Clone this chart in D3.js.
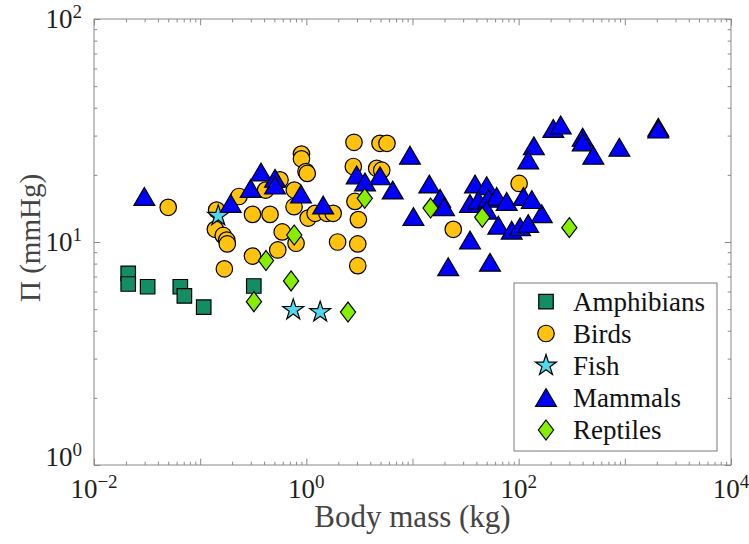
<!DOCTYPE html>
<html>
<head>
<meta charset="utf-8">
<script src="https://cdn.jsdelivr.net/npm/d3@7/dist/d3.min.js"></script>
<style>
  html, body { margin: 0; padding: 0; background: #fff; }
  svg { display: block; }
</style>
</head>
<body>
<svg id="chart" width="749" height="544" font-family="Liberation Serif"></svg>
<script>
// ---------------- data ----------------
const categories = ["Amphibians", "Birds", "Fish", "Mammals", "Reptiles"];

const amphibiansMass = [0.021, 0.021, 0.032, 0.065, 0.071, 0.108, 0.32];
const amphibiansPi   = [7.24, 6.48, 6.30, 6.30, 5.73, 5.10, 6.35];

const birdsMass = [0.050, 0.143, 0.139, 0.165, 0.178, 0.180, 0.169, 0.232, 0.311, 0.455,
                   0.766, 1.04, 0.90, 0.90, 0.993, 1.02, 0.593, 0.538, 0.311, 0.80,
                   2.81, 4.94, 5.75, 2.77, 4.60, 5.13, 2.87, 3.09, 3.05, 3.05,
                   1.97, 0.414, 0.565, 0.771, 1.21, 1.56, 1.79, 101, 24.2];
const birdsPi   = [14.3, 13.9, 11.4, 10.7, 10.2, 9.8, 7.58, 16.0, 13.3, 13.3,
                   14.4, 12.8, 24.8, 23.6, 20.7, 20.3, 11.1, 9.21, 8.65, 9.87,
                   28.0, 27.7, 27.7, 21.8, 21.4, 21.0, 15.2, 12.6, 9.80, 7.83,
                   10.0, 17.1, 19.0, 17.1, 13.45, 13.45, 13.45, 18.3, 11.4];

const fishMass = [0.148, 0.753, 1.35];
const fishPi   = [13.1, 4.96, 4.85];

const mammalsMass = [0.0298, 0.194, 0.299, 0.374, 0.507, 0.507, 0.89, 1.44, 2.98, 3.57,
                     4.94, 6.51, 9.47, 14.4, 18.2, 19.8, 10.2, 38.8, 50.0, 34.8,
                     41.7, 51.7, 62.1, 77.1, 50.0, 64.3, 86.0, 103, 123, 165,
                     111, 133, 34.8, 21.7, 53.7, 212, 249, 139, 123, 401,
                     401, 505, 887, 2065, 2065];
const mammalsPi   = [16.0, 14.9, 17.4, 20.6, 19.3, 18.0, 16.4, 14.65, 20.0, 18.6,
                     19.8, 17.1, 24.5, 18.2, 15.7, 14.4, 13.0, 18.2, 17.9, 14.9,
                     15.4, 15.7, 16.0, 15.2, 13.9, 11.9, 11.3, 11.7, 12.1, 13.4,
                     16.0, 15.5, 10.2, 7.75, 8.11, 32.3, 33.5, 27.0, 23.3, 29.5,
                     28.1, 24.5, 26.6, 32.7, 32.1];

const reptilesMass = [0.321, 0.417, 0.718, 0.769, 2.47, 3.55, 14.8, 45.4, 300];
const reptilesPi   = [5.40, 8.26, 6.69, 10.75, 4.85, 15.7, 14.2, 12.9, 11.6];

const xTickLabels = ["10^−2", "10^0", "10^2", "10^4"];
const yTickLabels = ["10^0", "10^1", "10^2"];

// ---------------- styles ----------------
const FONT = "Liberation Serif";
const fills = {
  Amphibians: "#138d64",
  Birds: "#ffc20e",
  Fish: "#4fd8ee",
  Mammals: "#0000ff",
  Reptiles: "#88ee00"
};

// custom marker shapes (size = linear dimension)
const squareType  = { draw(c, s) { const h = s / 2; c.moveTo(-h, -h); c.lineTo(h, -h); c.lineTo(h, h); c.lineTo(-h, h); c.closePath(); } };
const circleType  = { draw(c, s) { const r = s / 2; c.moveTo(r, 0); c.arc(0, 0, r, 0, 2 * Math.PI); } };
const triType     = { draw(c, s) { const w = s * 0.55, h = s * 0.47; c.moveTo(0, -h); c.lineTo(w, h); c.lineTo(-w, h); c.closePath(); } };
const diamondType = { draw(c, s) { const w = s * 0.38, h = s * 0.5; c.moveTo(0, -h); c.lineTo(w, 0); c.lineTo(0, h); c.lineTo(-w, 0); c.closePath(); } };
const starType    = { draw(c, s) {
  const R = s / 2, r = R * 0.382;
  for (let i = 0; i < 10; i++) {
    const rad = i % 2 ? r : R;
    const a = -Math.PI / 2 + i * Math.PI / 5;
    const px = rad * Math.cos(a), py = rad * Math.sin(a);
    if (i === 0) c.moveTo(px, py); else c.lineTo(px, py);
  }
  c.closePath();
} };

const markers = {
  Amphibians: { type: squareType, size: 14.5 },
  Birds:      { type: circleType, size: 16.5 },
  Fish:       { type: starType,   size: 22 },
  Mammals:    { type: triType,    size: 19 },
  Reptiles:   { type: diamondType, size: 20 }
};

const seriesData = {
  Amphibians: amphibiansMass.map((m, i) => ({ m, p: amphibiansPi[i] })),
  Birds:      birdsMass.map((m, i) => ({ m, p: birdsPi[i] })),
  Fish:       fishMass.map((m, i) => ({ m, p: fishPi[i] })),
  Mammals:    mammalsMass.map((m, i) => ({ m, p: mammalsPi[i] })),
  Reptiles:   reptilesMass.map((m, i) => ({ m, p: reptilesPi[i] }))
};

// ---------------- layout ----------------
const svg = d3.select("#chart");
const L = 94, R = 731, T = 19, B = 465;
const x = d3.scaleLog().domain([1e-2, 1e4]).range([L, R]);
const y = d3.scaleLog().domain([1, 100]).range([B, T]);

const axisColor = "#8a8a8a";

function decades(d0, d1) { const out = []; for (let e = d0; e <= d1; e++) out.push(Math.pow(10, e)); return out; }
function minors(d0, d1) { const out = []; for (let e = d0; e < d1; e++) for (let k = 2; k <= 9; k++) out.push(k * Math.pow(10, e)); return out; }

const xMaj = decades(-2, 4), xMin = minors(-2, 4);
const yMaj = decades(0, 2),  yMin = minors(0, 2);

function drawAxis(gen, scale, vals, size, tx, ty) {
  const g = svg.append("g").attr("transform", `translate(${tx},${ty})`)
    .call(gen(scale).tickValues(vals).tickSizeInner(-size).tickSizeOuter(0).tickFormat(""));
  g.select(".domain").remove();
  g.selectAll("line").attr("stroke", axisColor).attr("stroke-width", 1);
  g.selectAll("text").remove();
}

drawAxis(d3.axisBottom, x, xMaj, 6.3, 0, B);
drawAxis(d3.axisBottom, x, xMin, 3.3, 0, B);
drawAxis(d3.axisTop,    x, xMaj, 6.3, 0, T);
drawAxis(d3.axisTop,    x, xMin, 3.3, 0, T);
drawAxis(d3.axisLeft,   y, yMaj, 6.3, L, 0);
drawAxis(d3.axisLeft,   y, yMin, 3.3, L, 0);
drawAxis(d3.axisRight,  y, yMaj, 6.3, R, 0);
drawAxis(d3.axisRight,  y, yMin, 3.3, R, 0);

svg.append("rect").attr("x", L).attr("y", T).attr("width", R - L).attr("height", B - T)
  .attr("fill", "none").attr("stroke", axisColor).attr("stroke-width", 1);

// tick labels with superscripts
function powLabel(g, label, px, py, anchor) {
  const [base, exp] = label.split("^");
  const t = g.append("text").attr("x", px).attr("y", py).attr("text-anchor", anchor)
    .attr("font-family", FONT).attr("fill", "#1f1f1f").attr("font-size", 27);
  t.append("tspan").text(base);
  t.append("tspan").attr("dy", -10).attr("font-size", 19).text(exp);
}
const labG = svg.append("g");
[1e-2, 1, 1e2, 1e4].forEach((v, i) => powLabel(labG, xTickLabels[i], x(v), 498, "middle"));
[1, 10, 100].forEach((v, i) => powLabel(labG, yTickLabels[i], 82, v === 1 ? y(v) + 1 : y(v) + 9, "end"));

// axis titles
svg.append("text").attr("x", (L + R) / 2).attr("y", 527).attr("text-anchor", "middle")
  .attr("font-family", FONT).attr("font-size", 31).attr("fill", "#444").text("Body mass (kg)");
svg.append("text").attr("transform", `translate(40,${(T + B) / 2 - 4}) rotate(-90)`)
  .attr("text-anchor", "middle").attr("font-family", FONT).attr("font-size", 29).attr("fill", "#444").text("Π (mmHg)");

// ---------------- points ----------------
const plotG = svg.append("g");
categories.forEach(cat => {
  const mk = markers[cat];
  plotG.append("g").selectAll("path").data(seriesData[cat]).join("path")
    .attr("transform", d => `translate(${x(d.m)},${y(d.p)})`)
    .attr("d", d3.symbol().type(mk.type).size(mk.size))
    .attr("fill", fills[cat]).attr("stroke", "#000").attr("stroke-width", 1.2);
});

// ---------------- legend ----------------
const lg = svg.append("g");
lg.append("rect").attr("x", 514).attr("y", 283).attr("width", 203).attr("height", 168)
  .attr("fill", "#fff").attr("stroke", "#7a7a7a").attr("stroke-width", 1);
const rowY = [301.7, 333.5, 365.5, 397.5, 430];
categories.forEach((cat, i) => {
  const mk = markers[cat];
  lg.append("path").attr("transform", `translate(546,${rowY[i]})`)
    .attr("d", d3.symbol().type(mk.type).size(mk.size))
    .attr("fill", fills[cat]).attr("stroke", "#000").attr("stroke-width", 1.2);
  lg.append("text").attr("x", 573).attr("y", rowY[i] + 9).attr("font-family", FONT)
    .attr("font-size", 27).attr("fill", "#111").text(cat);
});
</script>
</body>
</html>
